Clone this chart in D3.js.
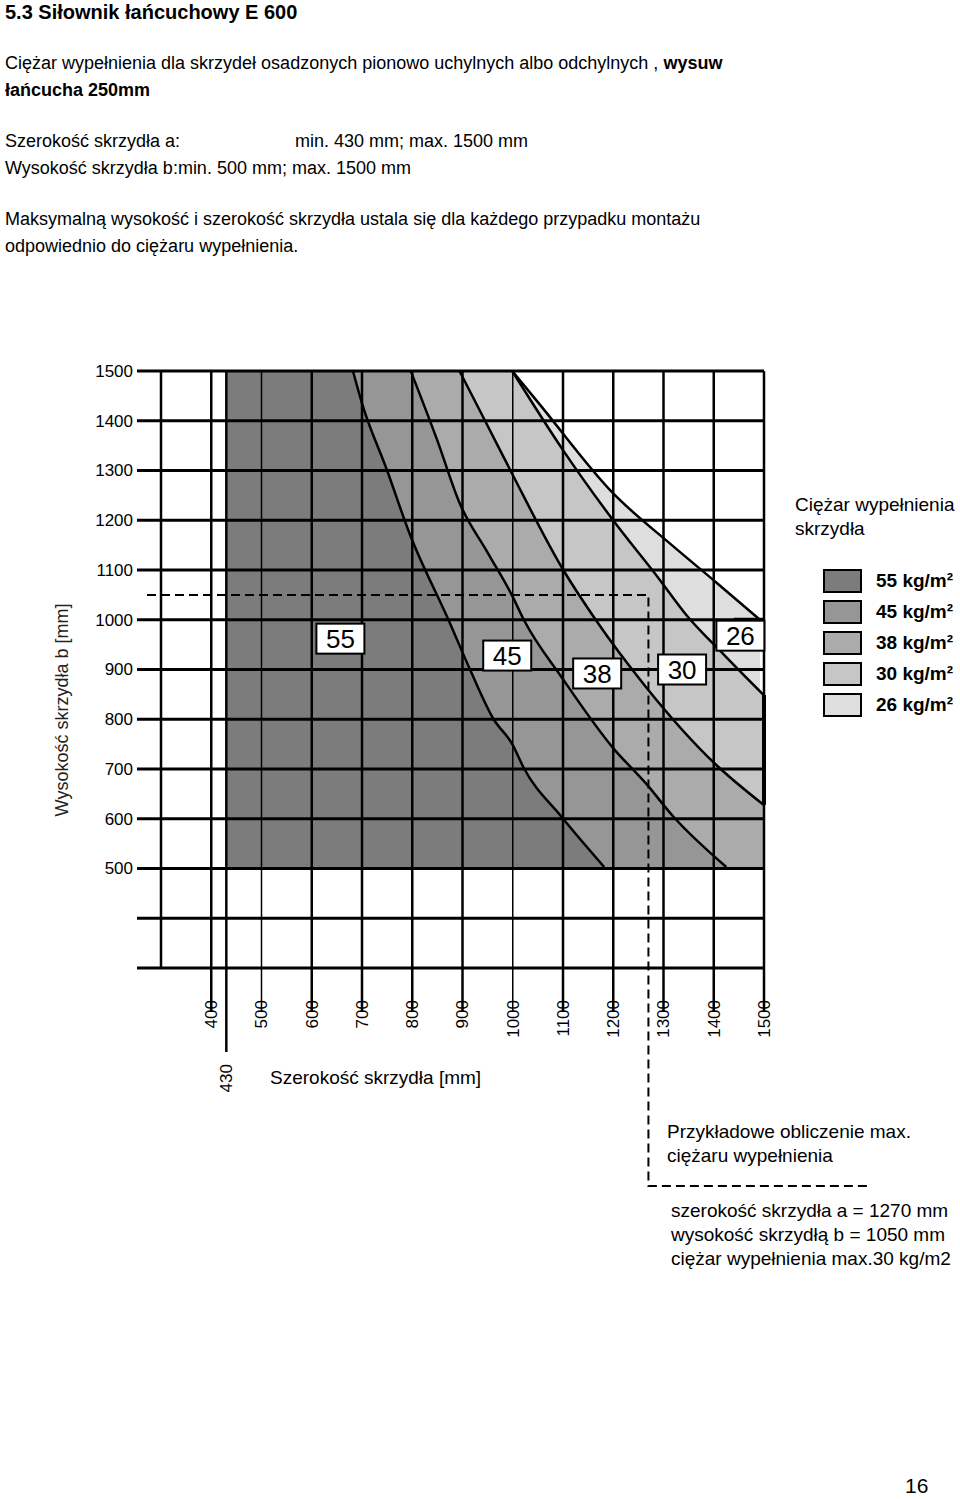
<!DOCTYPE html>
<html><head><meta charset="utf-8">
<script src="https://cdn.jsdelivr.net/npm/d3@7"></script>
<style>body{margin:0;background:#fff}svg{display:block}</style>
</head><body><svg id="c" width="960" height="1499"></svg>
<script>
const xTicks=[400,500,600,700,800,900,1000,1100,1200,1300,1400,1500];
const yTicks=[500,600,700,800,900,1000,1100,1200,1300,1400,1500];
const loadNames=["55","45","38","30","26"];
const legendLabels=["55 kg/m²","45 kg/m²","38 kg/m²","30 kg/m²","26 kg/m²"];
const bandColors=["#7c7c7c","#969696","#ababab","#c6c6c6","#dedede"];
const curve55=[[682,1500],[700,1435],[750,1300],[794,1175],[872,1000],[915,900],[962,800],[999,750],[1022,702],[1097,604],[1182,503]];
const curve45=[[797,1500],[850,1360],[894,1235],[950,1135],[999,1048],[1022,1000],[1099,882],[1199,743],[1265,671],[1319,605],[1425,503]];
const curve38=[[894,1500],[950,1390],[999,1293],[1100,1101],[1165,1000],[1265,865],[1402,711],[1499,628]];
const curve30=[[999,1500],[1100,1341],[1199,1201],[1292,1081],[1345,1010],[1420,930],[1499,849]];
const curve26=[[999,1500],[1052,1435],[1199,1255],[1319,1148],[1405,1075],[1492,1000]];
const curves=[curve55,curve45,curve38,curve30,curve26];
const labelPos=[[657,962],[989,928],[1168,892],[1337,900],[1453,968]];
const example={a:1270,b:1050};

const svg=d3.select("#c");
const F="'Liberation Sans',Arial,sans-serif";
const N="'Liberation Sans Narrow','Liberation Sans',Arial,sans-serif";
const x=d3.scaleLinear().domain([300,1500]).range([161,764]);
const y=d3.scaleLinear().domain([300,1500]).range([968,371]);

const t=(txt,px,py,o={})=>svg.append("text").attr("x",px).attr("y",py).attr("font-family",o.f||F).attr("font-size",o.s||18).attr("font-weight",o.w||"normal").attr("fill","#000").text(txt);
t("5.3 Siłownik łańcuchowy E 600",5,19,{s:20,w:"bold"});
const l1=t("Ciężar wypełnienia dla skrzydeł osadzonych pionowo uchylnych albo odchylnych , ",5,69);
l1.append("tspan").attr("font-weight","bold").text("wysuw");
t("łańcucha 250mm",5,96,{w:"bold"});
t("Szerokość skrzydła a:",5,147);t("min. 430 mm; max. 1500 mm",295,147);
t("Wysokość skrzydła b:min. 500 mm; max. 1500 mm",5,174);
t("Maksymalną wysokość i szerokość skrzydła ustala się dla każdego przypadku montażu",5,225);
t("odpowiednio do ciężaru wypełnienia.",5,252);
t("16",905,1493,{s:21});

const area=d3.area().x(d=>x(d[0])).y0(y(500)).y1(d=>y(d[1])).curve(d3.curveMonotoneX);
for(let i=4;i>=0;i--){
  const c=curves[i];
  svg.append("rect").attr("x",x(430)).attr("y",y(1500)).attr("width",x(c[0][0])-x(430)+1).attr("height",y(500)-y(1500)).attr("fill",bandColors[i]);
  svg.append("path").attr("d",area(c)).attr("fill",bandColors[i]);
}
const g=svg.append("g").attr("stroke","#000");
[300,400].concat(yTicks).forEach(v=>g.append("line").attr("x1",137).attr("x2",x(1500)).attr("y1",y(v)).attr("y2",y(v)).attr("stroke-width",3));
[300].concat(xTicks).forEach(v=>g.append("line").attr("x1",x(v)).attr("x2",x(v)).attr("y1",y(1500)).attr("y2",v===300?y(300):1012).attr("stroke-width",(v===500||v===1000)?1.5:2.5));
g.append("line").attr("x1",x(430)).attr("x2",x(430)).attr("y1",y(1500)).attr("y2",1052).attr("stroke-width",2.5);
g.append("line").attr("x1",x(1500)).attr("x2",x(1500)).attr("y1",y(849)).attr("y2",y(628)).attr("stroke-width",4);
g.append("line").attr("x1",x(1440)).attr("x2",x(1500)).attr("y1",y(1000)).attr("y2",y(1000)).attr("stroke-width",4);
const line=d3.line().x(d=>x(d[0])).y(d=>y(d[1])).curve(d3.curveMonotoneX);
curves.forEach(c=>svg.append("path").attr("d",line(c)).attr("fill","none").attr("stroke","#000").attr("stroke-width",2.5));
const dash=svg.append("g").attr("stroke","#000").attr("stroke-width",2).attr("stroke-dasharray","9,5").attr("fill","none");
dash.append("path").attr("d",`M147,${y(example.b)}H${x(example.a)}V1186H868`);
yTicks.forEach(v=>svg.append("text").attr("x",133).attr("y",y(v)).attr("dy","0.35em").attr("text-anchor","end").attr("font-family",F).attr("font-size",17).text(v));
xTicks.forEach(v=>svg.append("text").attr("transform",`translate(${x(v)},1000) rotate(-90)`).attr("dy","0.35em").attr("text-anchor","end").attr("font-family",F).attr("font-size",17).text(v));
svg.append("text").attr("transform",`translate(${x(430)},1064) rotate(-90)`).attr("dy","0.35em").attr("text-anchor","end").attr("font-family",F).attr("font-size",17).text("430");
svg.append("text").attr("transform","translate(62,710) rotate(-90)").attr("dy","0.35em").attr("text-anchor","middle").attr("font-family",N).attr("font-size",18).attr("fill","#222").text("Wysokość skrzydła b [mm]");
t("Szerokość skrzydła [mm]",270,1084,{f:N,s:19});
labelPos.forEach((p,i)=>{
  const cx=x(p[0]),cy=y(p[1]);
  svg.append("rect").attr("x",cx-24).attr("y",cy-15).attr("width",48).attr("height",30).attr("fill","#fff").attr("stroke","#000").attr("stroke-width",2);
  svg.append("text").attr("x",cx).attr("y",cy).attr("dy","0.36em").attr("text-anchor","middle").attr("font-family",N).attr("font-size",26).text(loadNames[i]);
});
t("Ciężar wypełnienia",795,511,{f:N,s:19});t("skrzydła",795,535,{f:N,s:19});
legendLabels.forEach((s,i)=>{
  const yy=570+i*31;
  svg.append("rect").attr("x",824).attr("y",yy).attr("width",37).attr("height",22).attr("fill",bandColors[i]).attr("stroke","#000").attr("stroke-width",2);
  t(s,876,yy+17,{f:N,s:19,w:"bold"});
});
t("Przykładowe obliczenie max.",667,1138,{f:N,s:19});
t("ciężaru wypełnienia",667,1162,{f:N,s:19});
t("szerokość skrzydła a = 1270 mm",671,1217,{f:N,s:19});
t("wysokość skrzydłą b = 1050 mm",671,1241,{f:N,s:19});
t("ciężar wypełnienia max.30 kg/m2",671,1265,{f:N,s:19});
</script></body></html>
